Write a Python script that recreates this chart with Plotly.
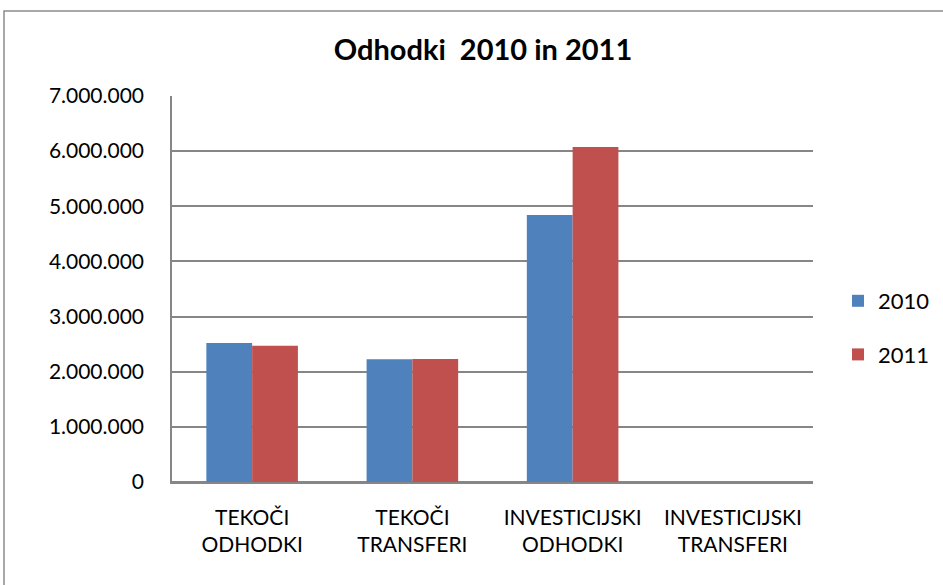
import plotly.graph_objects as go

categories = ["TEKOČI<br>ODHODKI", "TEKOČI<br>TRANSFERI", "INVESTICIJSKI<br>ODHODKI", "INVESTICIJSKI<br>TRANSFERI"]
values_2010 = [2520000, 2225000, 4840000, 0]
values_2011 = [2470000, 2230000, 6075000, 0]
series_names = ["2010", "2011"]
title_text = "<b>Odhodki  2010 in 2011</b>"

FONT = "Lato, 'Open Sans', sans-serif"
GRID = "#868686"

fig = go.Figure()
fig.add_trace(go.Bar(x=categories, y=values_2010, name=series_names[0],
                     marker=dict(color="#4F81BD", line=dict(width=0)), legendgroup="a"))
fig.add_trace(go.Bar(x=categories, y=values_2011, name=series_names[1],
                     marker=dict(color="#C0504D", line=dict(width=0)), legendgroup="b"))

fig.update_layout(
    width=943, height=585,
    margin=dict(l=172, r=130, t=96, b=103, autoexpand=False),
    paper_bgcolor="white", plot_bgcolor="white",
    barmode="group", bargap=0.4286, bargroupgap=0,
    separators=",.",
    font=dict(family=FONT, size=21, color="black"),
    title=dict(text=title_text, x=483 / 943, xanchor="center", y=1 - 50 / 585, yanchor="middle",
               font=dict(family=FONT, size=29, color="black")),
    legend=dict(xref="container", yref="container", x=838 / 943, xanchor="left",
                y=1 - 328 / 585, yanchor="middle",
                traceorder="grouped", tracegroupgap=22,
                font=dict(family=FONT, size=22), bgcolor="rgba(0,0,0,0)"),
    yaxis=dict(range=[0, 7000000], dtick=1000000, tickformat=",d", automargin=False,
               showgrid=True, gridcolor=GRID, gridwidth=1.5,
               showline=True, linecolor=GRID, linewidth=1.5,
               zeroline=True, zerolinecolor=GRID, zerolinewidth=1.5,
               ticks="", ticklabelstandoff=22, fixedrange=True),
    xaxis=dict(showline=True, linecolor=GRID, linewidth=1.5, ticks="", automargin=False,
               ticklabelstandoff=16, fixedrange=True),
    shapes=[dict(type="rect", xref="paper", yref="paper",
                 x0=(4 - 172) / 641, x1=1.4, y0=-0.5, y1=(482 - 11) / 386,
                 line=dict(color="#8c8c8c", width=1.5), fillcolor="rgba(0,0,0,0)", layer="below")],
)

fig.write_html("out.html", config={"displayModeBar": False},
               post_script="document.body.style.margin='0';document.body.style.overflow='hidden';")
